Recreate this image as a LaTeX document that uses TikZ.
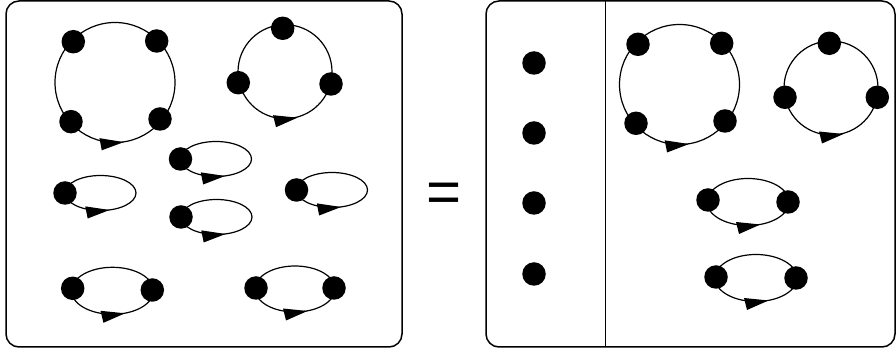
\documentclass[tikz,border=0pt]{standalone}
\usepackage{fontspec}
\setmainfont{Liberation Sans}
\usetikzlibrary{decorations.markings}
\begin{document}
\begin{tikzpicture}[x=1pt, y=1pt,
    dot/.style={circle, fill=black, inner sep=0pt, minimum size=23.5pt},
    ring/.style={line width=1.2pt, postaction={decorate},
      decoration={markings, mark=at position #1 with {\fill (-12pt,3.5pt) -- (12.5pt,1pt) -- (-9pt,-8.5pt) -- cycle;}}},
    panel/.style={line width=1.5pt, rounded corners=13pt}]
    \useasboundingbox (0,0) rectangle (896,352);
    \draw[panel] (6,5) rectangle (402,351);
    \draw[panel] (486,5) rectangle (895,351);
    \draw[line width=1.2pt] (605.5,5) -- (605.5,351);
    \node[font=\fontsize{60}{60}\selectfont] (eq) at (444.5,154) {=};
    % left side
    \coordinate (c1) at (115,269.5);
    \draw[ring=0.74] (c1) circle[radius=60];
    \foreach \n/\x/\y in {a/73.3/310.3, b/156.7/311, c/71/230.3, d/160/233} \node[dot] (l1\n) at (\x,\y) {};
    \coordinate (c2) at (285,280.3);
    \draw[ring=0.75] (c2) circle[radius=47];
    \foreach \n/\x/\y in {a/282.7/323.7, b/238.3/269.3, c/331/268} \node[dot] (l2\n) at (\x,\y) {};
    \foreach \n/\x/\y in {e1/100.5/159, e2/216/193, e3/216.5/135, e4/332/162} {
        \draw[ring=0.73] (\x,\y) ellipse[x radius=35.5, y radius=17.5];
        \node[dot] (\n) at ({\x-35.5},\y) {};
    }
    \draw[ring=0.75] (112.5,61.2) ellipse[x radius=41, y radius=23.5];
    \node[dot] (t1a) at (72.7,63.7) {};
    \node[dot] (t1b) at (152.3,62) {};
    \draw[ring=0.75] (295,63) ellipse[x radius=40, y radius=23];
    \node[dot] (t2a) at (256,64) {};
    \node[dot] (t2b) at (334,64) {};
    % right side
    \foreach \n/\y in {1/289, 2/219, 3/149, 4/78} \node[dot] (p\n) at (534,\y) {};
    \coordinate (c3) at (679.5,267.5);
    \draw[ring=0.742] (c3) circle[radius=60];
    \foreach \n/\x/\y in {a/638/307.7, b/721.7/308.7, c/636/228.7, d/725/231} \node[dot] (r1\n) at (\x,\y) {};
    \coordinate (c4) at (831,264);
    \draw[ring=0.75] (c4) circle[radius=47];
    \foreach \n/\x/\y in {a/829.3/308.7, b/785/254.7, c/877.3/254.7} \node[dot] (r2\n) at (\x,\y) {};
    \draw[ring=0.75] (748,150) ellipse[x radius=41, y radius=23.5];
    \node[dot] (r3a) at (708,152) {};
    \node[dot] (r3b) at (788,150) {};
    \draw[ring=0.75] (756,74) ellipse[x radius=41, y radius=23.5];
    \node[dot] (r4a) at (716,75) {};
    \node[dot] (r4b) at (796,74) {};
\end{tikzpicture}
\end{document}
